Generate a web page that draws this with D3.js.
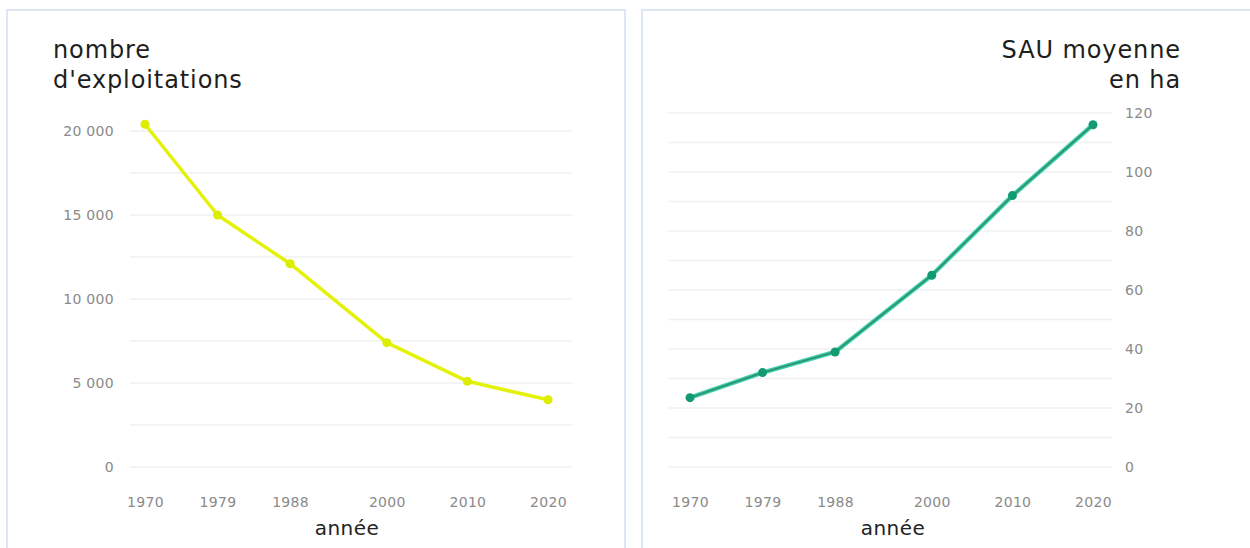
<!DOCTYPE html>
<html><head><meta charset="utf-8">
<script src="https://cdn.jsdelivr.net/npm/d3@7"></script>
<style>
html,body{margin:0;padding:0;background:#fff;}
svg{display:block;font-family:"DejaVu Sans","Open Sans",sans-serif;}
</style></head>
<body>
<svg id="c" width="1250" height="548"></svg>
<script>
const years = [1970, 1979, 1988, 2000, 2010, 2020];
const exploitations = [20400, 15000, 12100, 7400, 5100, 4000];
const sauMoyenne = [23.5, 32, 39, 65, 92, 116];
const leftTicks = [0, 5000, 10000, 15000, 20000];
const rightTicks = [0, 20, 40, 60, 80, 100, 120];
const leftTitle = ["nombre", "d'exploitations"];
const rightTitle = ["SAU moyenne", "en ha"];
const xTitle = "année";

const svg = d3.select("#c");
const fmt = v => d3.format(",")(v).replace(/,/g, "\u00A0");

// panel frames
svg.append("rect").attr("x", 7).attr("y", 10).attr("width", 618).attr("height", 560)
  .attr("fill", "none").attr("stroke", "#dde6f3").attr("stroke-width", 2);
svg.append("rect").attr("x", 642).attr("y", 10).attr("width", 620).attr("height", 560)
  .attr("fill", "none").attr("stroke", "#dde6f3").attr("stroke-width", 2);

function panel(opt) {
  const g = svg.append("g");
  const x = d3.scaleLinear().domain([1970, 2020]).range(opt.xr);
  const y = d3.scaleLinear().domain(opt.ydom).range([467, opt.ytop]);
  const step = opt.ticks[1] - opt.ticks[0];
  const minor = d3.range(opt.ydom[0], opt.ydom[1] + 0.001, step / 2);
  g.selectAll(".grid").data(minor).join("line")
    .attr("x1", opt.gx[0]).attr("x2", opt.gx[1])
    .attr("y1", d => y(d)).attr("y2", d => y(d))
    .attr("stroke", "#eef0f4").attr("stroke-width", 1.5);
  // y axis
  const ax = (opt.right ? d3.axisRight(y) : d3.axisLeft(y))
    .tickValues(opt.ticks).tickFormat(opt.fmt).tickSize(0).tickPadding(0);
  const ga = g.append("g").attr("transform", `translate(${opt.axX},0)`).call(ax);
  ga.select(".domain").remove();
  ga.selectAll("text").attr("fill", "#8a8a8a").style("font-size", "14px")
    .style("font-family", "'DejaVu Sans',sans-serif").style("letter-spacing", "0.3px");
  // x axis
  const xa = d3.axisBottom(x).tickValues(years).tickFormat(d3.format("d")).tickSize(0).tickPadding(0);
  const gx = g.append("g").attr("transform", "translate(0,497)").call(xa);
  gx.select(".domain").remove();
  gx.selectAll("text").attr("fill", "#8a8a8a").style("font-size", "14px")
    .style("font-family", "'DejaVu Sans',sans-serif").style("letter-spacing", "0.3px");
  // x title
  g.append("text").attr("x", opt.xtX).attr("y", 535).attr("text-anchor", "middle")
    .attr("fill", "#222").style("font-size", "20px").style("letter-spacing", "0.5px").text(xTitle);
  // y title
  opt.title.forEach((t, i) => {
    g.append("text").attr("x", opt.titleX).attr("y", 58 + i * 30)
      .attr("text-anchor", opt.right ? "end" : "start")
      .attr("fill", "#1e1e1e").style("font-size", "24px").style("letter-spacing", "0.9px").text(t);
  });
  // line
  const line = d3.line().x((d, i) => x(years[i])).y(d => y(d));
  if (opt.halo) {
    g.append("path").datum(opt.values).attr("d", line).attr("fill", "none")
      .attr("stroke", opt.halo).attr("stroke-width", 4.5).attr("stroke-linejoin", "round");
  }
  g.append("path").datum(opt.values).attr("d", line).attr("fill", "none")
    .attr("stroke", opt.color).attr("stroke-width", opt.lw).attr("stroke-linejoin", "round");
  g.selectAll(".pt").data(opt.values).join("circle")
    .attr("cx", (d, i) => x(years[i])).attr("cy", d => y(d)).attr("r", 4.5)
    .attr("fill", opt.pcolor);
}

panel({
  xr: [145, 548], ydom: [0, 20000], ytop: 131, ticks: leftTicks, fmt: fmt,
  gx: [130, 572], axX: 114, right: false, xtX: 347, titleX: 53, title: leftTitle,
  values: exploitations, color: "#e4f20a", lw: 3.5, pcolor: "#dced00", halo: null
});
panel({
  xr: [690, 1093], ydom: [0, 120], ytop: 113, ticks: rightTicks, fmt: d3.format("d"),
  gx: [668, 1112], axX: 1125, right: true, xtX: 893, titleX: 1181, title: rightTitle,
  values: sauMoyenne, color: "#2f9275", lw: 1.8, pcolor: "#129a72", halo: "#3fd2ad"
});
</script>
</body></html>
